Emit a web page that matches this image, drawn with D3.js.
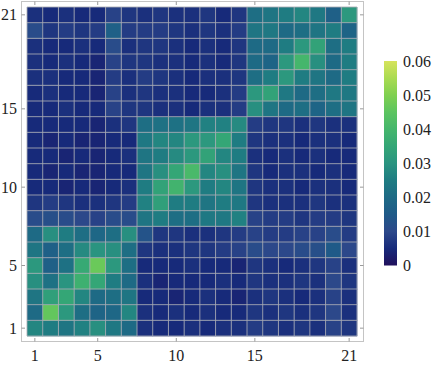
<!DOCTYPE html>
<html><head><meta charset="utf-8">
<script src="https://cdn.jsdelivr.net/npm/d3@7"></script>
<style>body{margin:0;background:#fff}svg{display:block}text{font-family:"Liberation Serif","DejaVu Serif",serif;fill:#222}</style>
</head><body><svg id="c" width="438" height="367"></svg>
<script>
// values[r] is matrix row r+1 (row 1 at the bottom), columns 1..21
const values = [
[.027,.025,.023,.026,.029,.024,.020,.006,.005,.005,.006,.005,.006,.006,.008,.007,.006,.007,.006,.009,.007],
[.020,.046,.031,.021,.018,.019,.027,.006,.005,.006,.005,.006,.005,.005,.007,.006,.007,.006,.007,.010,.006],
[.023,.033,.035,.027,.020,.021,.023,.005,.005,.004,.005,.006,.005,.004,.006,.007,.006,.005,.006,.009,.006],
[.029,.022,.030,.038,.035,.025,.020,.006,.004,.005,.005,.005,.006,.005,.007,.006,.006,.007,.006,.010,.007],
[.031,.017,.022,.036,.047,.031,.021,.005,.005,.005,.006,.005,.005,.004,.007,.006,.005,.006,.007,.009,.006],
[.023,.017,.021,.028,.030,.029,.021,.007,.006,.006,.007,.007,.008,.009,.011,.010,.010,.011,.012,.015,.010],
[.020,.029,.025,.021,.019,.021,.029,.013,.007,.007,.006,.006,.007,.008,.009,.008,.008,.009,.009,.011,.008],
[.011,.012,.011,.010,.009,.011,.011,.023,.025,.021,.021,.024,.024,.026,.009,.008,.008,.007,.008,.008,.007],
[.007,.008,.007,.006,.006,.007,.008,.026,.033,.025,.025,.023,.025,.024,.007,.006,.006,.006,.007,.006,.006],
[.005,.005,.004,.005,.004,.005,.006,.025,.034,.039,.031,.025,.027,.023,.007,.006,.006,.005,.006,.006,.005],
[.005,.004,.005,.004,.004,.005,.005,.023,.029,.035,.041,.027,.029,.023,.007,.005,.006,.006,.005,.006,.005],
[.005,.005,.004,.005,.004,.005,.006,.023,.025,.028,.031,.034,.027,.025,.006,.005,.006,.005,.006,.005,.005],
[.005,.004,.005,.004,.004,.005,.005,.024,.027,.027,.031,.031,.035,.025,.007,.006,.006,.005,.006,.006,.005],
[.005,.005,.005,.005,.004,.006,.007,.021,.022,.022,.023,.026,.026,.028,.008,.007,.007,.006,.007,.006,.006],
[.005,.005,.006,.005,.005,.009,.007,.007,.006,.006,.005,.006,.006,.008,.029,.023,.020,.021,.018,.021,.023],
[.005,.006,.005,.005,.004,.009,.006,.007,.006,.006,.005,.005,.006,.008,.031,.034,.024,.020,.021,.024,.024],
[.006,.006,.005,.005,.004,.008,.006,.008,.007,.006,.005,.006,.006,.007,.021,.025,.031,.025,.023,.020,.025],
[.006,.005,.006,.005,.004,.009,.007,.007,.006,.006,.005,.006,.005,.007,.020,.018,.031,.040,.029,.020,.025],
[.006,.005,.005,.006,.005,.011,.006,.007,.007,.006,.005,.006,.005,.007,.020,.020,.025,.031,.034,.021,.025],
[.011,.007,.008,.007,.008,.017,.008,.008,.008,.007,.006,.007,.006,.008,.023,.024,.020,.021,.023,.025,.018],
[.006,.005,.006,.005,.005,.009,.007,.006,.007,.006,.006,.007,.005,.007,.021,.023,.025,.027,.024,.017,.031]
];
const axisTicks = [1,5,10,15,21];
const legendTicks = [0,0.01,0.02,0.03,0.04,0.05,0.06];
const legendLabels = ["0","0.01","0.02","0.03","0.04","0.05","0.06"];
const colorStops = [0,.005,.01,.015,.02,.025,.03,.035,.04,.045,.05,.055,.06];
const colorRange = ["#21105c","#172a7a","#2c488a","#1f5a88","#1e6a85","#1f7c82","#2a9480","#34a676","#45b66c","#5cc460","#80d050","#aadb52","#d6e35c"];

const n = values.length;
const svg = d3.select("#c");
const color = d3.scaleLinear().domain(colorStops).range(colorRange).interpolate(d3.interpolateRgb).clamp(true);

const x0 = 27, x1 = 357, y0 = 7, y1 = 336;
const xs = d3.scaleLinear().domain([0.5, n+0.5]).range([x0, x1]);
const ys = d3.scaleLinear().domain([0.5, n+0.5]).range([y1, y0]);

const cells = [];
values.forEach((row,r)=>row.forEach((v,c)=>cells.push({r:r+1,c:c+1,v})));
svg.append("g").selectAll("rect").data(cells).join("rect")
  .attr("x", d=>xs(d.c-0.5)).attr("y", d=>ys(d.r+0.5))
  .attr("width", xs(1.5)-xs(0.5)+0.3).attr("height", ys(0.5)-ys(1.5)+0.3)
  .attr("fill", d=>color(d.v));

// mesh
const mesh = svg.append("g").attr("stroke","#a9acb4").attr("stroke-width",1).attr("stroke-opacity",0.85);
d3.range(0, n+1).forEach(i=>{
  mesh.append("line").attr("x1", xs(i+0.5)).attr("x2", xs(i+0.5)).attr("y1", y0).attr("y2", y1);
  mesh.append("line").attr("y1", ys(i+0.5)).attr("y2", ys(i+0.5)).attr("x1", x0).attr("x2", x1);
});

// frame
const fL=21.5, fR=363.5, fT=1.5, fB=341.5;
svg.append("rect").attr("x",fL).attr("y",fT).attr("width",fR-fL).attr("height",fB-fT)
  .attr("fill","none").attr("stroke","#c4c4c4").attr("stroke-width",1);
const tk = svg.append("g").attr("stroke","#9a9a9a").attr("stroke-width",1);
axisTicks.forEach(t=>{
  tk.append("line").attr("x1",xs(t)).attr("x2",xs(t)).attr("y1",fB).attr("y2",fB-3.5);
  tk.append("line").attr("x1",xs(t)).attr("x2",xs(t)).attr("y1",fT).attr("y2",fT+3.5);
  tk.append("line").attr("y1",ys(t)).attr("y2",ys(t)).attr("x1",fL).attr("x2",fL+3.5);
  tk.append("line").attr("y1",ys(t)).attr("y2",ys(t)).attr("x1",fR).attr("x2",fR-3.5);
});
svg.append("g").selectAll("text").data(axisTicks).join("text")
  .attr("x",17).attr("y",d=>ys(d)).attr("dy","0.35em").attr("text-anchor","end")
  .attr("font-size",16).text(d=>d);
svg.append("g").selectAll("text").data(axisTicks).join("text")
  .attr("x",d=>xs(d)).attr("y",361).attr("text-anchor","middle")
  .attr("font-size",16).text(d=>d);

// colorbar
const lb = d3.scaleLinear().domain([0,0.06]).range([265.5,61]);
const defs = svg.append("defs");
const grad = defs.append("linearGradient").attr("id","g").attr("x1",0).attr("x2",0).attr("y1",1).attr("y2",0);
colorStops.forEach(s=>grad.append("stop").attr("offset",s/0.06).attr("stop-color",color(s)));
svg.append("rect").attr("x",384).attr("y",lb(0.06)).attr("width",13).attr("height",lb(0)-lb(0.06)).attr("fill","url(#g)");
svg.append("g").selectAll("text").data(legendTicks).join("text")
  .attr("x",403).attr("y",d=>lb(d)).attr("dy","0.35em").attr("font-size",16)
  .text((d,i)=>legendLabels[i]);
</script></body></html>
